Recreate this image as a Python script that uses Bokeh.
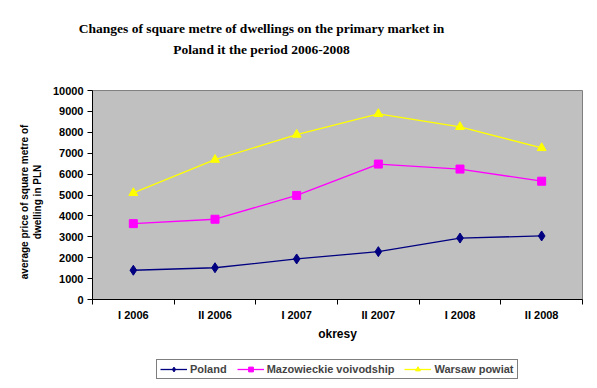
from bokeh.plotting import figure
from bokeh.layouts import column
from bokeh.models import FixedTicker, Label, Legend, LegendItem, Range1d
from bokeh.embed import file_html
from bokeh.resources import INLINE

periods = ["I 2006", "II 2006", "I 2007", "II 2007", "I 2008", "II 2008"]
poland = [1400, 1520, 1940, 2290, 2940, 3040]
mazowieckie = [3630, 3840, 4980, 6480, 6240, 5660]
warsaw = [5100, 6690, 7890, 8880, 8260, 7250]
y_ticks = list(range(0, 10001, 1000))
title_lines = ["Changes of square metre of dwellings on the primary market in",
               "Poland it the period 2006-2008"]
y_title_lines = ["average price of square metre of", "dwelling in PLN"]
x_title = "okresy"

xs = [i + 0.5 for i in range(len(periods))]
bounds = list(range(len(periods) + 1))

W = 590
PAD = "\u00a0" * 5  # shifts the centred vertical title slightly downwards

# ---- title strip ----
pt = figure(width=W, height=84, output_backend="svg", toolbar_location=None,
            x_axis_type=None, y_axis_type=None, min_border=0,
            x_range=Range1d(0, 1), y_range=Range1d(0, 1))
pt.outline_line_color = None
pt.xgrid.visible = False
pt.ygrid.visible = False
title_x = 169
if "frame_align" in pt.properties():
    pt.frame_align = False   # keep this strip's frame over the full width
    title_x = 261
for i, t in enumerate(title_lines):
    pt.add_layout(Label(x=title_x, y=56 - i * 21, x_units="screen", y_units="screen",
                        text=t, text_align="center", text_baseline="middle",
                        text_font="Liberation Serif", text_font_style="bold",
                        text_font_size="13.5px", text_color="black"))

# ---- main chart ----
p = figure(width=W, height=266, output_backend="svg", toolbar_location=None,
           x_range=Range1d(0, len(periods)), y_range=Range1d(0, 10000),
           min_border_left=92, min_border_right=8, min_border_top=6, min_border_bottom=51)
p.background_fill_color = "#C0C0C0"
p.border_fill_color = "white"
p.outline_line_color = "#808080"
p.xgrid.visible = False
p.ygrid.visible = False

p.xaxis.ticker = FixedTicker(ticks=xs, minor_ticks=bounds)
p.xaxis.major_label_overrides = {x: lab for x, lab in zip(xs, periods)}
p.xaxis.major_tick_out = 0
p.xaxis.major_tick_in = 0
p.xaxis.minor_tick_out = 5
p.xaxis.minor_tick_in = 0
p.xaxis.minor_tick_line_color = "black"
p.xaxis.axis_line_color = "black"
p.xaxis.major_label_standoff = 4
p.xaxis.axis_label = x_title
p.xaxis.axis_label_standoff = 3

p.yaxis.ticker = FixedTicker(ticks=y_ticks, minor_ticks=[])
p.yaxis.major_label_overrides = {t: str(t) for t in y_ticks}
p.yaxis.major_tick_out = 5
p.yaxis.major_tick_in = 0
p.yaxis.major_label_standoff = 4
p.yaxis.axis_line_color = "black"
p.yaxis.axis_label = "\n".join(line + PAD for line in y_title_lines)
p.yaxis.axis_label_standoff = 7

for ax in (p.xaxis, p.yaxis):
    ax.major_label_text_font = "Liberation Sans"
    ax.major_label_text_font_style = "bold"
    ax.major_label_text_font_size = "11px"
    ax.major_label_text_color = "black"
    ax.axis_label_text_font = "Liberation Sans"
    ax.axis_label_text_font_style = "bold"
    ax.axis_label_text_color = "black"
p.xaxis.axis_label_text_font_size = "12px"
p.yaxis.axis_label_text_font_size = "10px"

series = [("Poland", poland, "#000080", "diamond", 10),
          ("Mazowieckie voivodship", mazowieckie, "#FF00FF", "square", 8),
          ("Warsaw powiat", warsaw, "#FFFF00", "triangle", 9)]
for name, vals, col, mk, sz in series:
    p.line(xs, vals, line_color=col, line_width=1.3)
    p.scatter(xs, vals, marker=mk, size=sz, fill_color=col, line_color=col)

# ---- legend strip ----
pl = figure(width=W, height=30, output_backend="svg", toolbar_location=None,
            x_axis_type=None, y_axis_type=None, min_border=0,
            x_range=Range1d(-10, -9), y_range=Range1d(-10, -9))
pl.outline_line_color = None
pl.xgrid.visible = False
pl.ygrid.visible = False
items = []
for name, vals, col, mk, sz in series:
    l = pl.line(xs, vals, line_color=col, line_width=1.3)
    s = pl.scatter(xs, vals, marker=mk, size=sz, fill_color=col, line_color=col)
    items.append(LegendItem(label=name, renderers=[l, s]))
legend = Legend(items=items, orientation="horizontal", location=(64, 1),
                border_line_color="black", border_line_width=1,
                background_fill_color="white", background_fill_alpha=1,
                label_text_font="Liberation Sans", label_text_font_style="bold",
                label_text_font_size="11px", glyph_width=27, glyph_height=12,
                label_height=12, label_standoff=3, spacing=10, padding=3, margin=0)
pl.add_layout(legend)

layout = column(pt, p, pl, spacing=0)
open("out.html", "w").write(file_html(layout, INLINE))
